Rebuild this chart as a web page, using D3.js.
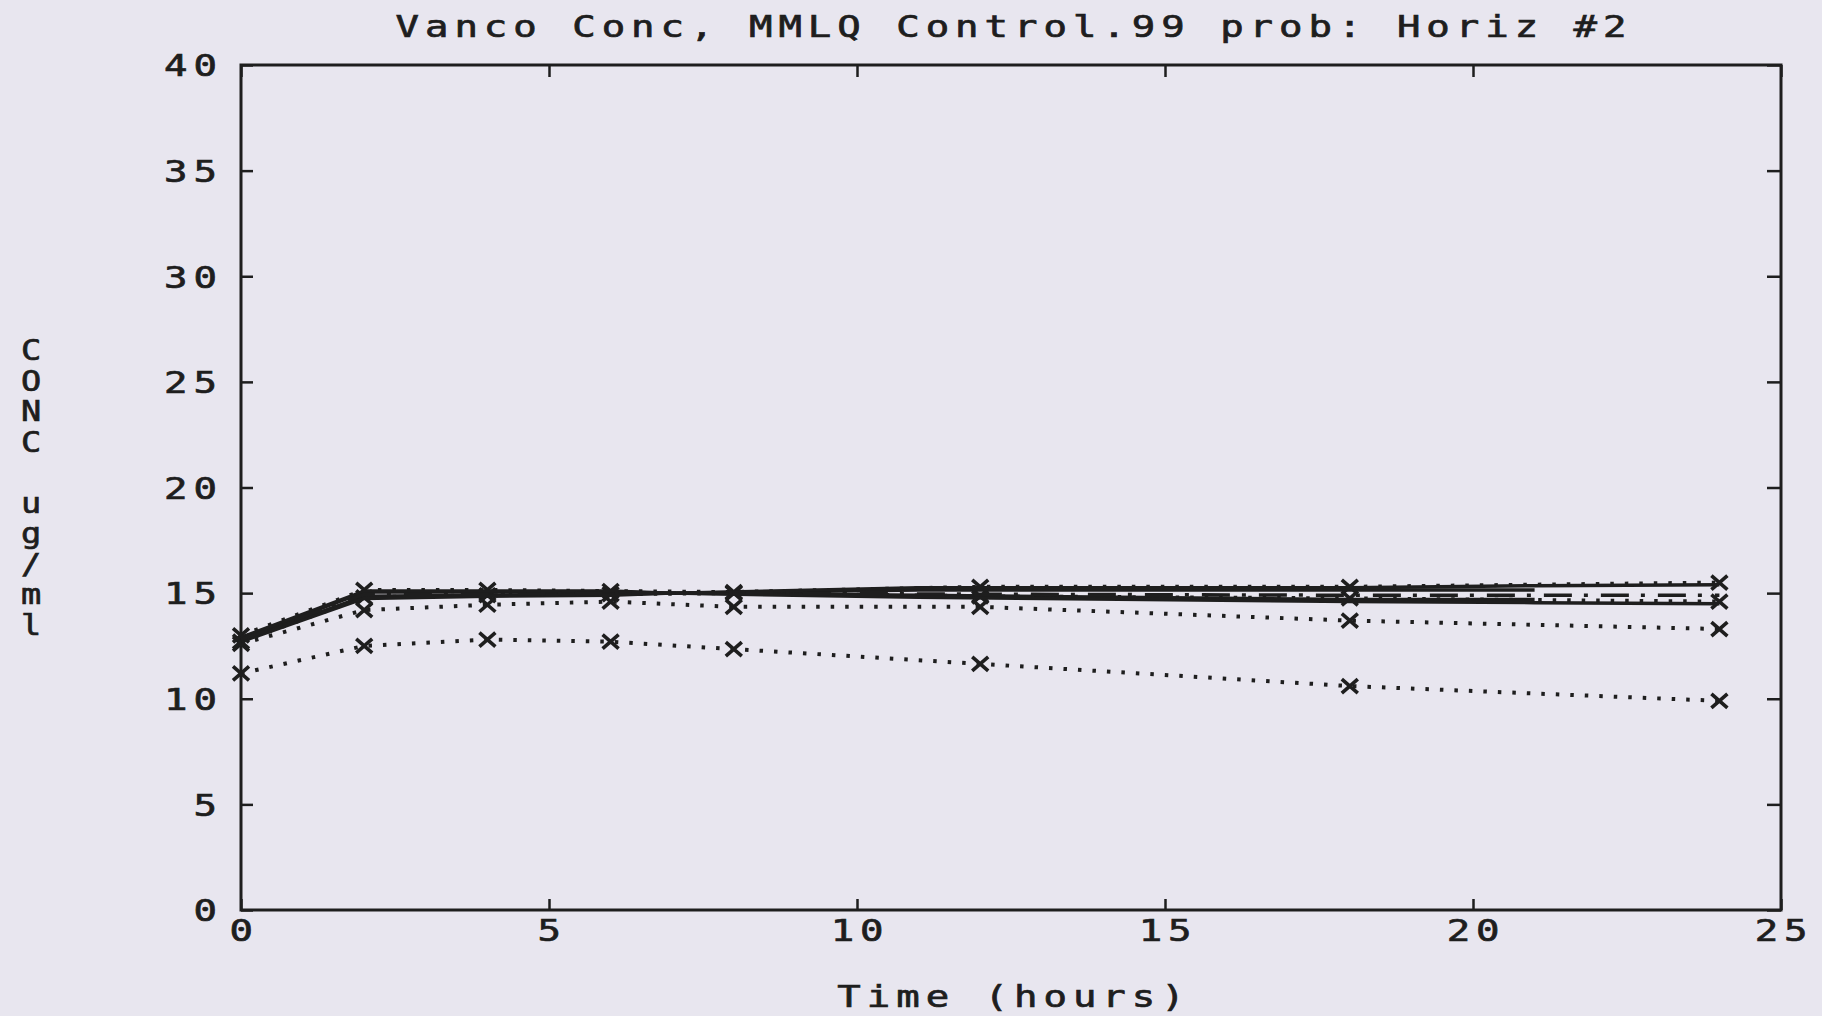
<!DOCTYPE html>
<html>
<head>
<meta charset="utf-8">
<script src="https://cdn.jsdelivr.net/npm/d3@7"></script>
<style>
  html,body{margin:0;padding:0;background:#e8e6ef;}
  svg{display:block;}
  text{font-family:"DejaVu Sans Mono",monospace;fill:#1e1e1e;stroke:#1e1e1e;stroke-width:0.7px;}
</style>
</head>
<body>
<div id="chart"></div>
<script>
// values
var times = [0,2,4,6,8,12,18,24]
var bandTimes = [0,2,4,6,7,11,18,21,24]
var upperSolid = [12.9,15.1,15.1,15.1,15.0,15.25,15.25,15.35,15.4]
var lowerSolid = [12.7,14.75,14.85,14.9,15.0,14.8,14.6,14.55,14.5]
var innerTimes = [0,2,4,6,7,11,18,21]
var innerUpper = [12.85,15.05,15.05,15.05,15.0,15.15,15.15,15.15]
var innerLower = [12.75,14.85,14.9,14.95,15.0,14.9,14.7,14.7]
var centerDashDot = [12.8,14.95,14.95,15.0,15.0,14.95,14.9,14.9]
var topDotted = [13.0,15.15,15.15,15.1,15.05,15.3,15.3,15.5]
var bandDotted = [12.7,14.8,14.9,14.95,15.0,14.85,14.75,14.6]
var midDotted = [12.6,14.2,14.45,14.6,14.35,14.35,13.7,13.3]
var lowDotted = [11.2,12.5,12.8,12.7,12.35,11.65,10.6,9.9]

var xTicks = [0,5,10,15,20,25]
var yTicks = [0,5,10,15,20,25,30,35,40]
var title = "Vanco Conc, MMLQ Control.99 prob: Horiz #2"
var xTitle = "Time (hours)"
var yTitle = "CONC ug/ml"

var W = 1822, H = 1016
var pLeft = 241, pRight = 1781, pTop = 65, pBottom = 910
var ink = "#1e1e1e"
var sx = 1.3    // glyphs of the plotter font are wide
var fs = 30, ls = 4.6

var svg = d3.select("#chart").append("svg").attr("width",W).attr("height",H)
svg.append("rect").attr("width",W).attr("height",H).attr("fill","#e8e6ef")

var x = d3.scaleLinear().domain([0,25]).range([pLeft,pRight])
var y = d3.scaleLinear().domain([0,40]).range([pBottom,pTop])

function wideText(g,str,px,py,anchor){
  var shift = anchor=="end" ? ls : anchor=="middle" ? ls/2 : 0
  g.append("text")
    .attr("transform","translate("+px+","+py+") scale("+sx+",1)")
    .attr("x",shift)
    .attr("text-anchor",anchor)
    .style("font-size",fs+"px")
    .style("letter-spacing",ls+"px")
    .text(str)
}

// axes, ticks pointing inwards
function styleAxis(g){
  g.select(".domain").remove()
  g.selectAll(".tick line").attr("stroke",ink).attr("stroke-width",2.5)
}
var yAxis = svg.append("g").attr("transform","translate("+pLeft+",0)")
  .call(d3.axisLeft(y).tickValues(yTicks).tickSizeInner(-12).tickSizeOuter(0).tickPadding(24))
styleAxis(yAxis)
yAxis.selectAll(".tick text").each(function(){
  d3.select(this).attr("x",(-24+ls*sx)/sx).attr("dy","0.36em").attr("transform","scale("+sx+",1)")
   .style("font-size",fs+"px").style("letter-spacing",ls+"px").attr("fill",ink)
})
var xAxis = svg.append("g").attr("transform","translate(0,"+pBottom+")")
  .call(d3.axisBottom(x).tickValues(xTicks).tickSizeInner(-11).tickSizeOuter(0).tickPadding(10))
styleAxis(xAxis)
xAxis.selectAll(".tick text").each(function(){
  d3.select(this).attr("x",2).attr("transform","scale("+sx+",1)")
   .style("font-size",fs+"px").style("letter-spacing",ls+"px").attr("fill",ink)
})
var rAxis = svg.append("g").attr("transform","translate("+pRight+",0)")
  .call(d3.axisRight(y).tickValues(yTicks).tickSizeInner(-14).tickSizeOuter(0).tickFormat(""))
styleAxis(rAxis)
var tAxis = svg.append("g").attr("transform","translate(0,"+pTop+")")
  .call(d3.axisTop(x).tickValues(xTicks).tickSizeInner(-12).tickSizeOuter(0).tickFormat(""))
styleAxis(tAxis)

svg.append("rect").attr("x",pLeft).attr("y",pTop).attr("width",pRight-pLeft).attr("height",pBottom-pTop)
  .attr("fill","none").attr("stroke",ink).attr("stroke-width",3)

// series
var line = d3.line().x(d=>x(d[0])).y(d=>y(d[1]))
function drawSeries(ts,vals,dash,width,markers){
  var pts = ts.map((t,i)=>[t,vals[i]])
  svg.append("path").datum(pts).attr("d",line)
    .attr("fill","none").attr("stroke",ink).attr("stroke-width",width)
    .attr("stroke-dasharray",dash).attr("stroke-linejoin","round")
  if (markers){
    var m = svg.append("g").selectAll("g").data(pts).enter().append("g")
      .attr("transform",d=>"translate("+x(d[0])+","+y(d[1])+")")
    m.append("path").attr("d","M-8,-7L8,7M-8,7L8,-7")
      .attr("stroke",ink).attr("stroke-width",3.6)
  }
}
var dotted = "3.5,11"
drawSeries(times,lowDotted,dotted,4,true)
drawSeries(times,midDotted,dotted,4,true)
drawSeries(times,bandDotted,dotted,4,true)
drawSeries(times,topDotted,dotted,4,true)
drawSeries(innerTimes,innerUpper,null,3.5,false)
drawSeries(innerTimes,innerLower,null,3.5,false)
drawSeries(bandTimes,upperSolid,null,3.5,false)
drawSeries(bandTimes,lowerSolid,null,3.5,false)
drawSeries(times,centerDashDot,"28,12,4,13",3.5,false)

// titles
wideText(svg,title,(pLeft+pRight)/2,37,"middle")
wideText(svg,xTitle,(pLeft+pRight)/2,1007,"middle")
var yg = svg.append("g")
yg.selectAll("text").data(yTitle.split("")).enter().append("text")
  .attr("transform",(d,i)=>"translate(31,"+(360+i*30.5)+") scale(1.2,1)")
  .attr("text-anchor","middle")
  .style("font-size","28px")
  .text(d=>d)
</script>
</body>
</html>
